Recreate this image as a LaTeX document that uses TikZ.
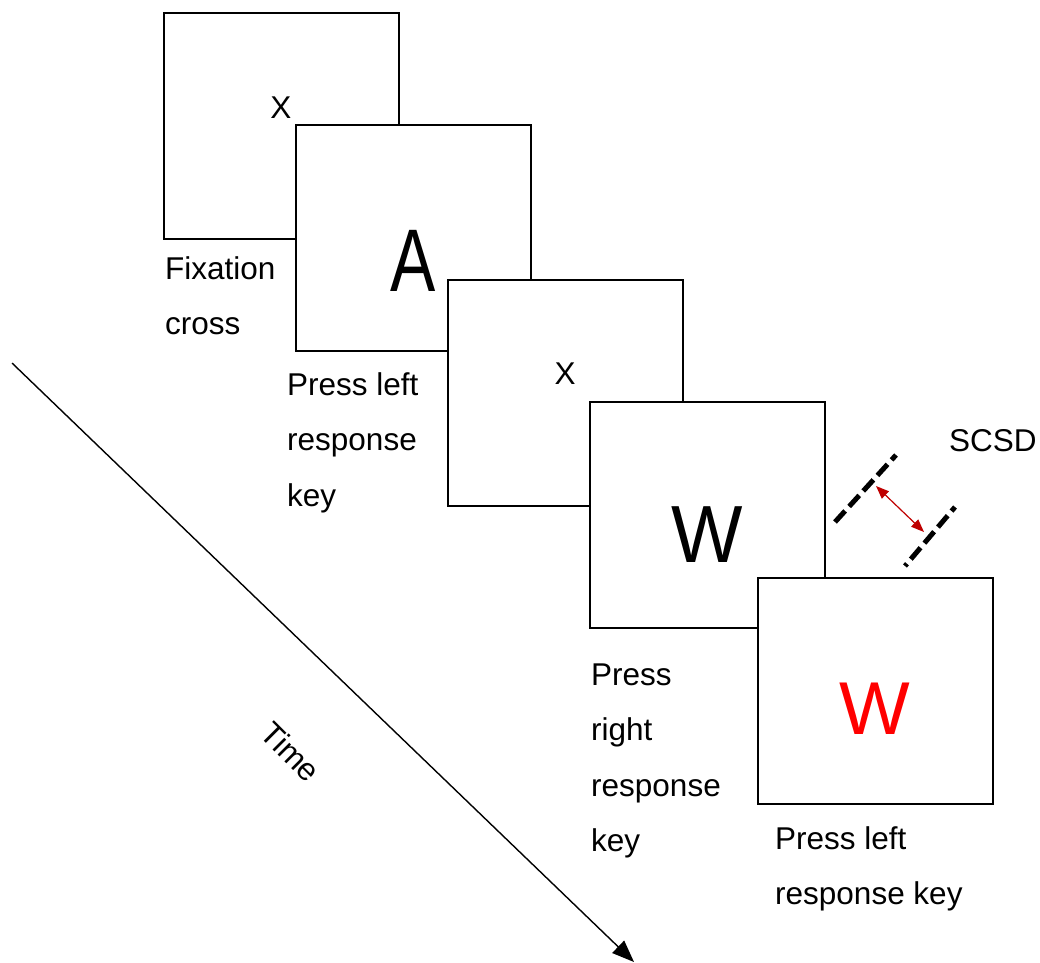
\documentclass[tikz,border=0pt]{standalone}
\usepackage{fontspec}
\setmainfont{Liberation Sans}
\usetikzlibrary{arrows.meta}
\begin{document}
\begin{tikzpicture}[x=1pt, y=-1pt,
  screen/.style={draw=black, fill=white, line width=1.8pt,
    minimum width=235pt, minimum height=226pt, inner sep=0pt, anchor=north west},
  small/.style={font=\fontsize{31.5}{36}\selectfont, inner sep=0pt, anchor=base},
  big/.style={font=\fontsize{78}{90}\selectfont, inner sep=0pt, anchor=base},
  % captions are placed by the baseline of their last line
  caption/.style={font=\fontsize{31.5}{55.5}\selectfont, align=left, inner sep=0pt, anchor=base west},
  bar/.style={line width=5pt, dash pattern=on 15pt off 6pt}
]
\useasboundingbox (0,0) rectangle (1040,962);

% time axis
\coordinate (t0) at (12,363);
\coordinate (t1) at (634,962);
\draw[line width=1.4pt, -{Triangle[length=22pt,width=17pt]}] (t0) -- (t1);
\node[small, anchor=center, rotate=-45] (time) at (291,752) {Time};

% stimulus screens, later ones on top
\node[screen] (s1) at (163,12) {};
\node[small] (x1) at (281,118) {X};
\node[screen] (s2) at (295,124) {};
\node[big, xscale=0.87, yscale=1.14] (a) at (413,291) {A};
\node[screen] (s3) at (447,279) {};
\node[small] (x2) at (565,384) {X};
\node[screen] (s4) at (589,401) {};
\node[big, xscale=0.97, yscale=1.04] (w1) at (707,562) {W};
\node[screen] (s5) at (757,577) {};
\node[big, scale=0.96, text=red] (w2) at (875,734) {W};

% captions
\node[caption] (c1) at (165,334.5) {Fixation\\cross};
\node[caption] (c2) at (287,506) {Press left\\response\\key};
\node[caption] (c4) at (591,851.5) {Press\\right\\response\\key};
\node[caption] (c5) at (775,904.5) {Press left\\response key};

% SCSD marker
\node[small, anchor=base west] (scsd) at (949,451) {SCSD};
\coordinate (b1a) at (835,522);
\coordinate (b1b) at (896,455);
\coordinate (b2a) at (905,566);
\coordinate (b2b) at (955,507);
\draw[bar] (b1a) -- (b1b);
\draw[bar, dash phase=12pt] (b2a) -- (b2b);
\coordinate (d1) at (876,486);
\coordinate (d2) at (924,532);
\draw[draw=red!75!black, line width=1.2pt,
  {Triangle[length=13pt,width=10pt]}-{Triangle[length=13pt,width=10pt]}] (d1) -- (d2);
\end{tikzpicture}
\end{document}
